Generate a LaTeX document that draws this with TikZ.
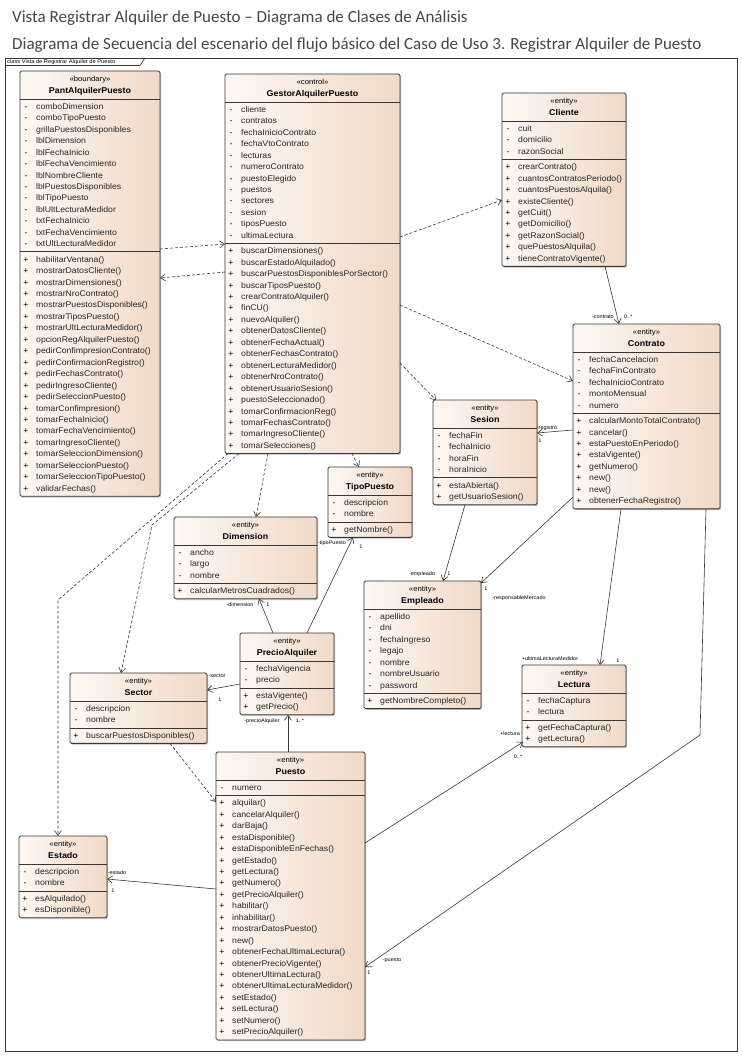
\documentclass[tikz,border=0pt]{standalone}
\usepackage{fontspec}
\setmainfont{Liberation Sans}
\newfontfamily\titlefont{Carlito}
\newfontfamily\memfont[FakeStretch=1.06]{Liberation Sans}
\usetikzlibrary{arrows.meta,calc,shadows}
\definecolor{clsL}{RGB}{253,248,243}
\definecolor{clsR}{RGB}{241,217,199}
\definecolor{bord}{RGB}{55,55,55}
\definecolor{titlec}{RGB}{70,70,70}
\tikzset{
 clsbox/.style={draw=bord, line width=0.8pt, rounded corners=1.5pt, left color=clsL, right color=clsR, inner sep=0pt, outer sep=0pt, drop shadow={shadow xshift=1.2pt, shadow yshift=-1.2pt, opacity=0.25, fill=black}},
 sepline/.style={draw=bord, line width=0.8pt},
 stereo/.style={font=\memfont\fontsize{7.3}{8}\selectfont, inner sep=0pt, text height=5.4pt, text depth=1.6pt},
 cname/.style={font=\memfont\fontsize{8.4}{9}\selectfont\bfseries, inner sep=0pt, text height=6.2pt, text depth=1.8pt},
 mem/.style={font=\memfont\fontsize{8.2}{9}\selectfont, inner sep=0pt, anchor=west, text=black!85, text height=6pt, text depth=1.8pt},
 vis/.style={font=\memfont\fontsize{8.2}{9}\selectfont, inner sep=0pt, text height=6pt, text depth=1.8pt},
 dep/.style={draw=bord, line width=0.6pt, dash pattern=on 3pt off 2pt, -{Straight Barb[length=5pt,width=7pt]}},
 assoc/.style={draw=bord, line width=0.6pt, -{Straight Barb[length=5pt,width=7pt]}},
 rl/.style={font=\memfont\fontsize{5.2}{6}\selectfont, inner sep=0pt},
}
\newcommand{\umlcls}[8]{%
 \foreach \t [count=\k] in {#7} {\xdef\clsnA{\k}}%
 \foreach \t [count=\k] in {#8} {\xdef\clsnM{\k}}%
 \pgfmathsetmacro\clshA{\clsnA*11.45+4}%
 \pgfmathsetmacro\clshM{\clsnM*11.45+4}%
 \pgfmathsetmacro\clsH{28+\clshA+\clshM}%
 \node[clsbox, minimum width=#4pt, minimum height=\clsH pt, anchor=north west] (#1) at (#2,#3) {};
 \node[stereo] (#1-st) at ({#2+#4/2},{#3+9}) {«#5»};
 \node[cname] (#1-nm) at ({#2+#4/2},{#3+20}) {#6};
 \draw[sepline] ({#2},{#3+28}) -- ++(#4,0);
 \draw[sepline] ({#2},{#3+28+\clshA}) -- ++(#4,0);
 \foreach \t [count=\k] in {#7} {
   \node[vis] (#1-av\k) at ({#2+6},{#3+30.5+(\k-0.5)*11.45}) {-};
   \node[mem] (#1-a\k) at ({#2+16},{#3+30.5+(\k-0.5)*11.45}) {\t};
 }
 \foreach \t [count=\k] in {#8} {
   \node[vis] (#1-mv\k) at ({#2+6},{#3+30.5+\clshA+(\k-0.5)*11.45}) {+};
   \node[mem] (#1-m\k) at ({#2+16},{#3+30.5+\clshA+(\k-0.5)*11.45}) {\t};
 }
}
\begin{document}
\begin{tikzpicture}[x=1pt,y=-1pt]
\useasboundingbox (0,0) rectangle (742,1056);
% titles
\node[anchor=west, font=\titlefont\fontsize{17}{20}\selectfont, text=titlec, inner sep=0pt] (t1) at (12,18) {Vista Registrar Alquiler de Puesto – Diagrama de Clases de Análisis};
\node[anchor=west, font=\titlefont\fontsize{17}{20}\selectfont, text=titlec, inner sep=0pt] (t2) at (12,45) {Diagrama de Secuencia del escenario del flujo básico del Caso de Uso 3. Registrar Alquiler de Puesto};
% frame
\node[draw=bord, line width=0.6pt, minimum width=732pt, minimum height=993pt, anchor=north west, inner sep=0pt] (frame) at (5,58) {};
\draw[bord, line width=0.6pt] (5,65.5) -- (140,65.5) -- (145,58);
\node[anchor=west, font=\memfont\fontsize{5.4}{6}\selectfont, inner sep=0pt] (framelbl) at (7,61.8) {class Vista de Registrar Alquiler de Puesto};

% classes
\umlcls{pant}{20}{71}{140}{boundary}{PantAlquilerPuesto}{comboDimension,comboTipoPuesto,grillaPuestosDisponibles,lblDimension,lblFechaInicio,lblFechaVencimiento,lblNombreCliente,lblPuestosDisponibles,lblTipoPuesto,lblUltLecturaMedidor,txtFechaInicio,txtFechaVencimiento,txtUltLecturaMedidor}{habilitarVentana(),mostrarDatosCliente(),mostrarDimensiones(),mostrarNroContrato(),mostrarPuestosDisponibles(),mostrarTiposPuesto(),mostrarUltLecturaMedidor(),opcionRegAlquilerPuesto(),pedirConfimpresionContrato(),pedirConfirmacionRegistro(),pedirFechasContrato(),pedirIngresoCliente(),pedirSeleccionPuesto(),tomarConfimpresion(),tomarFechaInicio(),tomarFechaVencimiento(),tomarIngresoCliente(),tomarSeleccionDimension(),tomarSeleccionPuesto(),tomarSeleccionTipoPuesto(),validarFechas()}

\umlcls{gestor}{225}{74}{175}{control}{GestorAlquilerPuesto}{cliente,contratos,fechaInicioContrato,fechaVtoContrato,lecturas,numeroContrato,puestoElegido,puestos,sectores,sesion,tiposPuesto,ultimaLectura}{buscarDimensiones(),buscarEstadoAlquilado(),buscarPuestosDisponiblesPorSector(),buscarTiposPuesto(),crearContratoAlquiler(),finCU(),nuevoAlquiler(),obtenerDatosCliente(),obtenerFechaActual(),obtenerFechasContrato(),obtenerLecturaMedidor(),obtenerNroContrato(),obtenerUsuarioSesion(),puestoSeleccionado(),tomarConfirmacionReg(),tomarFechasContrato(),tomarIngresoCliente(),tomarSelecciones()}

\umlcls{cliente}{502}{93}{124}{entity}{Cliente}{cuit,domicilio,razonSocial}{crearContrato(),cuantosContratosPeriodo(),cuantosPuestosAlquila(),existeCliente(),getCuit(),getDomicilio(),getRazonSocial(),quePuestosAlquila(),tieneContratoVigente()}

\umlcls{contrato}{573}{324}{147}{entity}{Contrato}{fechaCancelacion,fechaFinContrato,fechaInicioContrato,montoMensual,numero}{calcularMontoTotalContrato(),cancelar(),estaPuestoEnPeriodo(),estaVigente(),getNumero(),new(),new(),obtenerFechaRegistro()}

\umlcls{sesion}{433}{400}{104}{entity}{Sesion}{fechaFin,fechaInicio,horaFin,horaInicio}{estaAbierta(),getUsuarioSesion()}

\umlcls{tipo}{328}{467}{84}{entity}{TipoPuesto}{descripcion,nombre}{getNombre()}

\umlcls{dimension}{174}{517}{143}{entity}{Dimension}{ancho,largo,nombre}{calcularMetrosCuadrados()}

\umlcls{empleado}{364}{581}{117}{entity}{Empleado}{apellido,dni,fechaIngreso,legajo,nombre,nombreUsuario,password}{getNombreCompleto()}

\umlcls{lectura}{522}{665}{104}{entity}{Lectura}{fechaCaptura,lectura}{getFechaCaptura(),getLectura()}

\umlcls{precio}{240}{633}{94}{entity}{PrecioAlquiler}{fechaVigencia,precio}{estaVigente(),getPrecio()}

\umlcls{sector}{70}{673}{137}{entity}{Sector}{descripcion,nombre}{buscarPuestosDisponibles()}

\umlcls{puesto}{216}{752}{149}{entity}{Puesto}{numero}{alquilar(),cancelarAlquiler(),darBaja(),estaDisponible(),estaDisponibleEnFechas(),getEstado(),getLectura(),getNumero(),getPrecioAlquiler(),habilitar(),inhabilitar(),mostrarDatosPuesto(),new(),obtenerFechaUltimaLectura(),obtenerPrecioVigente(),obtenerUltimaLectura(),obtenerUltimaLecturaMedidor(),setEstado(),setLectura(),setNumero(),setPrecioAlquiler()}

\umlcls{estado}{19}{836}{88}{entity}{Estado}{descripcion,nombre}{esAlquilado(),esDisponible()}

% dependencies
\draw[dep] ($(pant.north west)+(140,178)$) -- ($(gestor.north west)+(0,170)$);
\draw[dep] ($(gestor.north west)+(0,198)$) -- ($(pant.north west)+(140,207)$);
\draw[dep] ($(gestor.north west)+(175,163)$) -- ($(cliente.north west)+(0,107)$);
\draw[dep] ($(gestor.north west)+(175,231)$) -- ($(contrato.north west)+(0,57)$);
\draw[dep] ($(gestor.north west)+(175,289)$) -- ($(sesion.north west)+(3,0)$);
\draw[dep] ($(gestor.south west)+(127,0)$) -- ($(tipo.north west)+(31,0)$);
\draw[dep] ($(gestor.south west)+(43,0)$) -- ($(dimension.north west)+(82,0)$);
\coordinate (bend8) at (152,525);
\draw[dep] ($(gestor.south west)+(14,0)$) -- (bend8) -- ($(sector.north west)+(51,0)$);
\coordinate (bend9) at (58,600);
\draw[dep] ($(gestor.south west)+(3,0)$) -- (bend9) -- ($(estado.north west)+(39,0)$);
\draw[dep] ($(sector.south west)+(100,0)$) -- ($(puesto.north west)+(0,50)$);

% associations
\draw[assoc] ($(cliente.south west)+(103,0)$) -- ($(contrato.north west)+(46,0)$);
\node[rl, anchor=east] (l1a) at (614,317) {-contrato};
\node[rl, anchor=west] (l1b) at (624,317) {0..*};

\draw[assoc] ($(contrato.north west)+(0,106)$) -- ($(sesion.north west)+(104,33)$);
\node[rl] (l2a) at (547,428.5) {-registró};
\node[rl] (l2b) at (540,441) {1};

\draw[assoc] ($(sesion.south west)+(32,0)$) -- ($(empleado.north west)+(79,0)$);
\node[rl] (l3a) at (422,574) {-empleado};
\node[rl] (l3b) at (449,574) {1};

\draw[assoc] ($(contrato.north west)+(0,173)$) -- ($(empleado.north west)+(117,2)$);
\node[rl] (l4a) at (486,589) {1};
\node[rl] (l4b) at (519,598) {-responsableMercado};

\draw[assoc] ($(contrato.south west)+(48,0)$) -- ($(lectura.north west)+(78,0)$);
\node[rl] (l5a) at (550,659) {+ultimaLecturaMedidor};
\node[rl] (l5b) at (618,661) {1};

\coordinate (bend6) at (700,735);
\draw[assoc] ($(contrato.south west)+(133,0)$) -- (bend6) -- ($(puesto.north west)+(149,215)$);
\node[rl] (l6a) at (392,960) {-puesto};
\node[rl] (l6b) at (369,973) {1};

\draw[assoc] ($(puesto.north west)+(149,91)$) -- ($(lectura.north west)+(1,77)$);
\node[rl] (l7a) at (510,734) {+lectura};
\node[rl] (l7b) at (518,757) {0..*};

\draw[assoc] ($(puesto.north west)+(72,0)$) -- ($(precio.south west)+(48,0)$);
\node[rl] (l8a) at (262,721) {-precioAlquiler};
\node[rl] (l8b) at (300,721) {1..*};

\draw[assoc] ($(precio.north west)+(33,0)$) -- ($(dimension.south west)+(85,0)$);
\node[rl] (l9a) at (240,605) {-dimension};
\node[rl] (l9b) at (268,605) {1};

\draw[assoc] ($(precio.north west)+(67,0)$) -- ($(tipo.south west)+(25,0)$);
\node[rl] (l10a) at (332,543) {-tipoPuesto};
\node[rl] (l10b) at (361,547) {1};

\draw[assoc] ($(precio.north west)+(0,51)$) -- ($(sector.north west)+(137,17)$);
\node[rl] (l11a) at (217,676) {-sector};
\node[rl] (l11b) at (220,700) {1};

\draw[assoc] ($(puesto.north west)+(0,137)$) -- ($(estado.north west)+(88,43)$);
\node[rl] (l12a) at (117,873) {-estado};
\node[rl] (l12b) at (113,891) {1};
\end{tikzpicture}
\end{document}
